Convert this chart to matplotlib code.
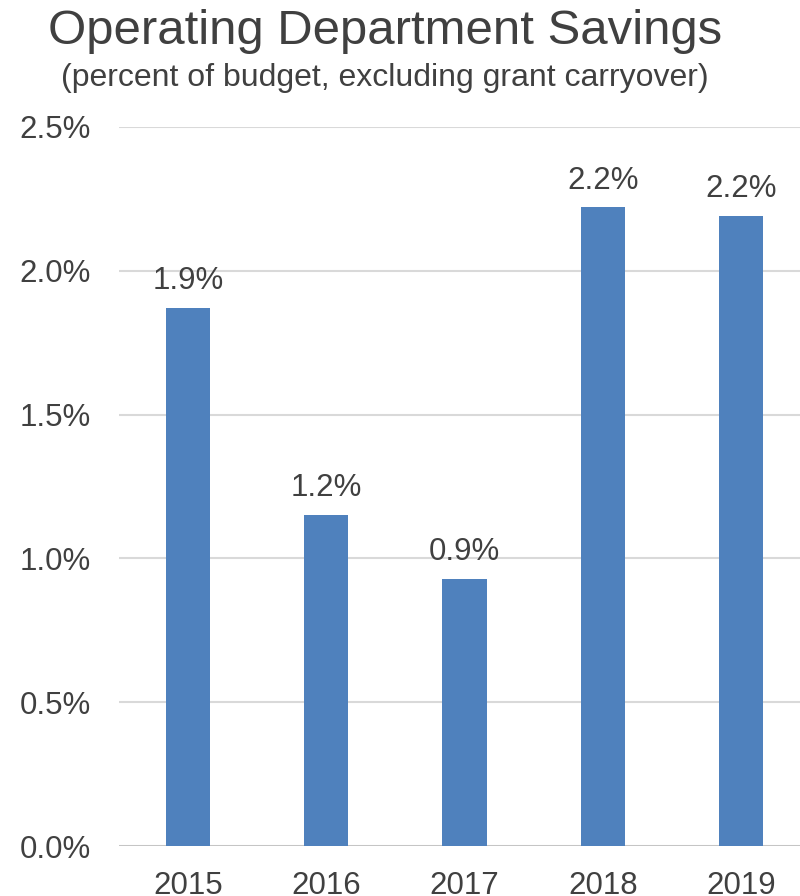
import matplotlib.pyplot as plt
from matplotlib.ticker import FuncFormatter

YEARS = ['2015', '2016', '2017', '2018', '2019']
SAVINGS = [1.87, 1.15, 0.93, 2.22, 2.19]
LABELS = ['1.9%', '1.2%', '0.9%', '2.2%', '2.2%']
YTICKS = [0.0, 0.5, 1.0, 1.5, 2.0, 2.5]

TEXT = '#404040'
BAR = '#4f81bd'
GRID = '#d9d9d9'

plt.rcParams['font.family'] = ['Liberation Sans', 'DejaVu Sans']

fig = plt.figure(figsize=(8, 8.96), dpi=100)
ax = fig.add_axes([0.14875, 0.0558, 0.864, 0.8025])

x = list(range(len(YEARS)))
ax.bar(x, SAVINGS, width=0.32, color=BAR, zorder=3)

for xi, val, lab in zip(x, SAVINGS, LABELS):
    ax.annotate(lab, (xi, val), xytext=(0, 13.5), textcoords='offset points',
                ha='center', va='baseline', fontsize=22.5, color=TEXT)

ax.set_xlim(-0.5, len(YEARS) - 0.5)
ax.set_ylim(0, 2.5)
ax.set_yticks(YTICKS)
ax.yaxis.set_major_formatter(FuncFormatter(lambda v, p: f'{v:.1f}%'))
ax.set_xticks(x)
ax.set_xticklabels(YEARS)
ax.tick_params(axis='both', length=0, labelsize=22.5, labelcolor=TEXT)
ax.tick_params(axis='y', pad=20)
ax.tick_params(axis='x', pad=18)
ax.yaxis.grid(True, color=GRID, linewidth=1.5, zorder=0)
ax.axhline(0, color='#bfbfbf', linewidth=1.8, zorder=2)
for s in ax.spines.values():
    s.set_visible(False)

fig.text(385 / 800, 1 - 44 / 896, 'Operating Department Savings', ha='center',
         va='baseline', fontsize=35.4, color=TEXT)
fig.text(385 / 800, 1 - 86 / 896, '(percent of budget, excluding grant carryover)',
         ha='center', va='baseline', fontsize=23, color=TEXT)

fig.savefig('out.png', dpi=100)
